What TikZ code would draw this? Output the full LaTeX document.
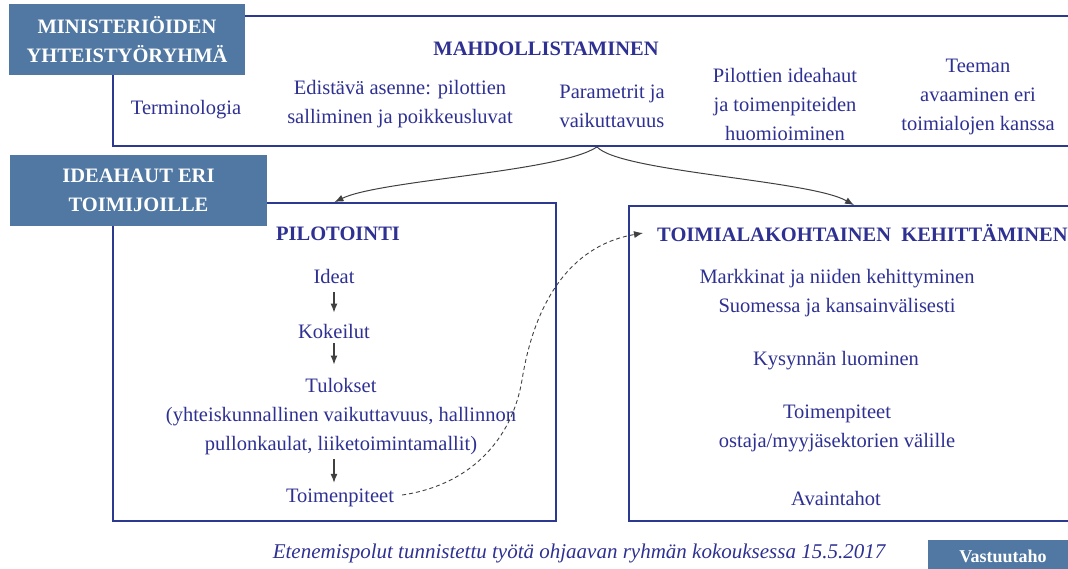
\documentclass[tikz,border=0pt]{standalone}
\usepackage{fontspec}
\setmainfont{Liberation Serif}
\usetikzlibrary{positioning,arrows.meta}
\definecolor{txtblue}{RGB}{46,49,146}
\definecolor{lineblue}{RGB}{43,57,145}
\definecolor{badgeblue}{RGB}{80,120,162}
\definecolor{arrgray}{RGB}{64,64,64}
\tikzset{
  panel/.style   = {shape=rectangle, draw=lineblue, line width=1.8pt,
                    inner sep=0pt},
  badge/.style   = {shape=rectangle, fill=badgeblue, text=white,
                    align=center, inner sep=0pt,
                    font=\fontsize{20.5}{29}\selectfont\bfseries},
  entry/.style   = {text=txtblue, align=center, inner sep=0pt,
                    font=\fontsize{20.5}{29}\selectfont},
  heading/.style = {entry, font=\fontsize{20.5}{29}\selectfont\bfseries}
}
\tikzstyle{flow}=[draw=arrgray, line width=1.1pt, -{Latex[length=9pt,width=7pt]}]
\tikzstyle{branch}=[draw=arrgray, line width=1pt, -{Latex[length=9pt,width=7pt]}]

\begin{document}
\begin{tikzpicture}[x=1pt, y=-1pt]
  \useasboundingbox (0,0) rectangle (1068,569);

  % panels
  \node [panel, minimum width=968pt, minimum height=130pt] (enabling) at (597,81) {};
  \node [panel, minimum width=443pt, minimum height=318pt] (pilot) at (334.5,362) {};
  \node [panel, minimum width=450pt, minimum height=315pt] (sector) at (854,363.5) {};

  % badges
  \node [badge, minimum width=236pt, minimum height=71pt] (ministry) at (127,39.5)
    {MINISTERIÖIDEN\\YHTEISTYÖRYHMÄ};
  \node [badge, minimum width=257pt, minimum height=71pt] (calls) at (138.5,190.5)
    {IDEAHAUT ERI\\TOIMIJOILLE};
  \node [badge, minimum width=150pt, minimum height=32pt,
         font=\fontsize{18}{22}\selectfont\bfseries] (resp) at (1003,556) {Vastuutaho};

  % top panel
  \node [heading] (mahd) at (546,49) {MAHDOLLISTAMINEN};
  \node [entry] (term) at (186,110) {Terminologia};
  \node [entry] (asenne) at (400,104) {Edistävä asenne: pilottien\\salliminen ja poikkeusluvat};
  \node [entry] (param) at (612,106.5) {Parametrit ja\\vaikuttavuus};
  \node [entry] (ideahaut) at (785,104.5) {Pilottien ideahaut\\ja toimenpiteiden\\huomioiminen};
  \node [entry] (teema) at (978,97) {Teeman\\avaaminen eri\\toimialojen kanssa};

  % piloting
  \node [heading] (pilothead) at (338,234) {PILOTOINTI};
  \node [entry] (ideat) at (334,276) {Ideat};
  \node [entry] (kokeilut) at (334,331) {Kokeilut};
  \node [entry] (tulokset) at (341,417) {Tulokset\\(yhteiskunnallinen vaikuttavuus, hallinnon\\pullonkaulat, liiketoimintamallit)};
  \node [entry] (toimp) at (340,498) {Toimenpiteet};

  \draw [flow, shorten <=9pt, shorten >=11pt] (ideat) -- (kokeilut);
  \draw [flow, shorten <=5pt, shorten >=14pt] (kokeilut.south) -- (tulokset.north -| kokeilut.south);
  \draw [flow, shorten <=4pt, shorten >=6pt] (tulokset.south -| ideat.south) -- (toimp.north -| ideat.south);

  % sector development
  \node [heading, anchor=west] (sectorhead) at (657,233) {TOIMIALAKOHTAINEN~~KEHITTÄMINEN};
  \node [entry] (markkinat) at (837,293.5) {Markkinat ja niiden kehittyminen\\Suomessa ja kansainvälisesti};
  \node [entry] (kysynta) at (836,361) {Kysynnän luominen};
  \node [entry] (ostaja) at (837,428.5) {Toimenpiteet\\ostaja/myyjäsektorien välille};
  \node [entry] (avain) at (836,498) {Avaintahot};

  % connectors
  \draw [branch] (enabling.south) .. controls (560,172) and (380,180) .. (pilot.north);
  \draw [branch] (enabling.south) .. controls (620,172) and (810,180) .. (sector.north);
  \coordinate (bend) at (522,380);
  \draw [draw=arrgray, line width=0.9pt, dash pattern=on 4pt off 3pt,
         -{Latex[length=9pt,width=7pt]}]
    (toimp.east) ++(8,-3) .. controls (470,485) and (512,440) .. (bend)
    .. controls (527,350) and (545,250) .. ([xshift=-14pt]sectorhead.west);

  \node [entry, font=\fontsize{21}{29}\selectfont\itshape] (note) at (579,553)
    {Etenemispolut tunnistettu työtä ohjaavan ryhmän kokouksessa 15.5.2017};
\end{tikzpicture}
\end{document}
